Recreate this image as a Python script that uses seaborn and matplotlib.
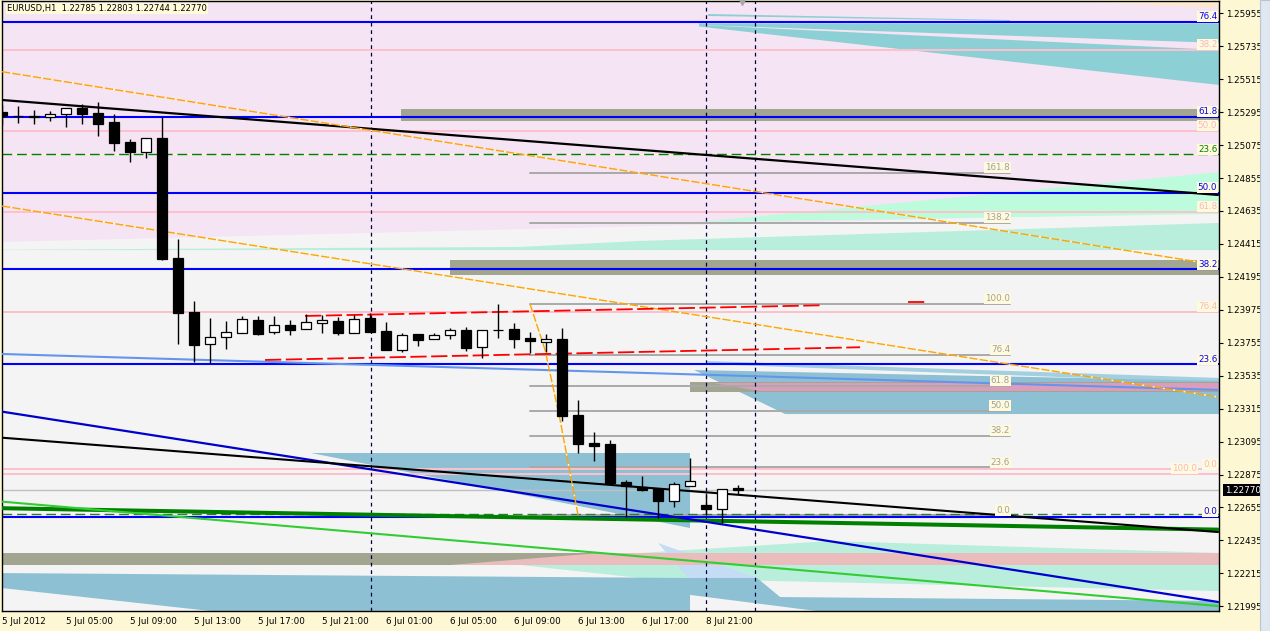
import matplotlib
matplotlib.use("Agg")
import matplotlib.pyplot as plt
from matplotlib.patches import Rectangle
import seaborn as sns

# EURUSD H1 candles, bar 0 = 5 Jul 01:00 (weekend gap after bar 43)
opens = [1.25296, 1.25272, 1.25266, 1.25262, 1.25281, 1.25325, 1.25289, 1.25229, 1.25094, 1.25031,
         1.25120, 1.24319, 1.23960, 1.23745, 1.23791, 1.23818, 1.23907, 1.23825, 1.23872, 1.23849,
         1.23885, 1.23900, 1.23822, 1.23920, 1.23833, 1.23709, 1.23813, 1.23778, 1.23805, 1.23840,
         1.23727, 1.23840, 1.23847, 1.23787, 1.23762, 1.23780, 1.23272, 1.23086, 1.23079, 1.22825,
         1.22794, 1.22780, 1.22700, 1.22800, 1.22672, 1.22647, 1.22785]
highs = [1.25340, 1.25336, 1.25309, 1.25303, 1.25323, 1.25349, 1.25365, 1.25283, 1.25114, 1.25120,
         1.25261, 1.24448, 1.24034, 1.23920, 1.23900, 1.23934, 1.23934, 1.23934, 1.23907, 1.23947,
         1.23938, 1.23927, 1.23938, 1.23952, 1.23894, 1.23818, 1.23813, 1.23818, 1.23856, 1.23860,
         1.23838, 1.24014, 1.23887, 1.23827, 1.23813, 1.23853, 1.23373, 1.23159, 1.23104, 1.22839,
         1.22865, 1.22780, 1.22825, 1.22985, 1.22750, 1.22776, 1.22803]
lows = [1.25209, 1.25222, 1.25216, 1.25236, 1.25198, 1.25216, 1.25138, 1.25038, 1.24964, 1.24991,
        1.24308, 1.23747, 1.23628, 1.23622, 1.23715, 1.23818, 1.23807, 1.23815, 1.23807, 1.23849,
        1.23822, 1.23807, 1.23822, 1.23829, 1.23709, 1.23695, 1.23735, 1.23778, 1.23780, 1.23700,
        1.23655, 1.23789, 1.23722, 1.23687, 1.23695, 1.23234, 1.23021, 1.22967, 1.22820, 1.22589,
        1.22768, 1.22583, 1.22658, 1.22800, 1.22605, 1.22549, 1.22744]
closes = [1.25269, 1.25268, 1.25264, 1.25281, 1.25321, 1.25285, 1.25218, 1.25091, 1.25031, 1.25120,
          1.24316, 1.23956, 1.23740, 1.23791, 1.23825, 1.23912, 1.23815, 1.23872, 1.23842, 1.23892,
          1.23907, 1.23820, 1.23912, 1.23829, 1.23709, 1.23807, 1.23773, 1.23805, 1.23838, 1.23722,
          1.23838, 1.23838, 1.23782, 1.23769, 1.23778, 1.23268, 1.23081, 1.23068, 1.22820, 1.22798,
          1.22772, 1.22700, 1.22810, 1.22830, 1.22647, 1.22776, 1.22770]

tick_bars = [0, 4, 8, 12, 16, 20, 24, 28, 32, 36, 40, 44]
tick_labels = ["5 Jul 2012", "5 Jul 05:00", "5 Jul 09:00", "5 Jul 13:00", "5 Jul 17:00", "5 Jul 21:00",
               "6 Jul 01:00", "6 Jul 05:00", "6 Jul 09:00", "6 Jul 13:00", "6 Jul 17:00", "8 Jul 21:00"]
price_ticks = [1.25955, 1.25735, 1.25515, 1.25295, 1.25075, 1.24855, 1.24635, 1.24415, 1.24195, 1.23975,
               1.23755, 1.23535, 1.23315, 1.23095, 1.22875, 1.22655, 1.22435, 1.22215, 1.21995]
last_price = 1.22770

# fibonacci levels (full width)
blue_levels = [1.25900, 1.25265, 1.24757, 1.24245, 1.23611, 1.22593]
blue_names = ["76.4", "61.8", "50.0", "38.2", "23.6", "0.0"]
pink_levels = [1.25712, 1.25171, 1.24630, 1.23962, 1.22910, 1.22880]
pink_names = ["38.2", "50.0", "61.8", "76.4", "0.0", "100.0"]
green_level = 1.25013
# short fibonacci (bars 33..63)
gray_levels = [1.24891, 1.24557, 1.24016, 1.23675, 1.23468, 1.23301, 1.23134, 1.22925, 1.22605]
gray_names = ["161.8", "138.2", "100.0", "76.4", "61.8", "50.0", "38.2", "23.6", "0.0"]
gray_span = (33, 63)
zero_dash_level = 1.22610

# zones: (bar from, bar to, low, high)
bands = [(24.94, 76.1, 1.25238, 1.25316), (28.0, 76.1, 1.24207, 1.24308),
         (43.0, 76.1, 1.23428, 1.23495), (0, 43.0, 1.22271, 1.22351)]

# trend lines: bars, prices
black_up = ([0, 76], [1.25376, 1.24742])
black_lo = ([0, 76], [1.23121, 1.22491])
blue_tl = ([0, 76], [1.23295, 1.22024])
cornflower_tl = ([0, 76], [1.23680, 1.23440])
green_tl = ([0, 76], [1.22650, 1.22507])
lime_tl = ([0, 76], [1.22694, 1.21997])
orange_1 = ([0, 76], [1.25565, 1.24274])
orange_2 = ([0, 76], [1.24668, 1.23393])
orange_swing = ([33, 33.94, 34.88, 36], [1.24014, 1.23707, 1.23239, 1.22605])
red_up = ([18.94, 51.13], [1.23934, 1.24005])
red_bit = ([56.63, 57.69], [1.24025, 1.24025])
red_lo = ([16.44, 53.63], [1.23640, 1.23725])
vlines_bars = [23.06, 44, 47.06]

# shaded objects: bars, prices
pink_bg = ([0, 76.1, 76.1, 0], [1.2604, 1.2604, 1.24628, 1.24428])
teal_a1 = ([44.13, 63, 63, 44.13], [1.25950, 1.25910, 1.25904, 1.25937])
teal_a2 = ([43.56, 76.1, 76.1, 43.56], [1.25887, 1.25887, 1.25757, 1.25877])
teal_b = ([43.56, 76.1, 76.1, 43.56], [1.25877, 1.25710, 1.25476, 1.25867])
peach = ([66.1, 76.1, 76.1], [1.2604, 1.2604, 1.25990])
mint_1 = ([43.56, 76.1, 76.1], [1.24561, 1.24895, 1.24615])
mint_2 = ([0, 32.38, 39.88, 76.1, 76.1, 0], [1.24376, 1.24395, 1.24435, 1.24555, 1.24374, 1.24374])
steel_mid = ([19.31, 43, 43], [1.23019, 1.23019, 1.22518])
light_strip = ([44.06, 76.1, 76.1, 44.06], [1.23633, 1.23520, 1.23487, 1.23613])
steel_right = ([43.25, 76.1, 76.1, 48.94], [1.23573, 1.23500, 1.23279, 1.23279])
pink_in_band = ([44.44, 76.1, 76.1, 47.38], [1.23486, 1.23486, 1.23433, 1.23433])
mint_hump = ([39.88, 51.75, 76.1], [1.22351, 1.22431, 1.22351])
pink_low = ([28.0, 76.1, 76.1, 37.38], [1.22271, 1.22271, 1.22351, 1.22351])
mint_low = ([32.38, 76.1, 76.1, 39.88], [1.22271, 1.22271, 1.22097, 1.22184])
steel_bl = ([0, 43, 43, 13, 0], [1.22217, 1.22184, 1.21964, 1.21964, 1.22117])
steel_br = ([43, 47.19, 48.63, 76.1, 76.1, 50.88, 43], [1.22184, 1.22184, 1.22057, 1.22031, 1.21964, 1.21964, 1.22071])
light_tri = ([41, 47.19, 42.88], [1.22418, 1.22184, 1.22184])

CREAM = "#fdf8d3"
sns.set_theme(style="white", rc={"axes.facecolor": "#f4f4f4", "figure.facecolor": CREAM})
plt.rcParams["font.family"] = ["DejaVu Sans"]

fig = plt.figure(figsize=(12.7, 6.31), dpi=100)
ax = fig.add_axes([2 / 1270, 1 - 611 / 631, 1217 / 1270, 610 / 631])
fig.patches.append(Rectangle((1260 / 1270, 0), 10 / 1270, 1, transform=fig.transFigure,
                             facecolor="#dfe7f1", edgecolor="#b8c4d4", lw=0.8))

# background objects
for poly, col in [(pink_bg, "#f5e4f4"), (peach, "#fde9d2"), (teal_a1, "#8ccfd4"), (teal_a2, "#8ccfd4"),
                  (teal_b, "#8ccfd4"), (mint_2, "#b9eedc"), (mint_1, "#bcfcdc"),
                  (steel_mid, "#8ec0d4"), (light_strip, "#a3cfe0"), (steel_right, "#8ec0d4"),
                  (mint_hump, "#b9eedc"), (mint_low, "#b9eedc"), (steel_bl, "#8ec0d4"),
                  (steel_br, "#8ec0d4"), (light_tri, "#c4dcf4")]:
    ax.fill(poly[0], poly[1], color=col, lw=0, zorder=1)

for x0, x1, lo, hi in bands:
    ax.fill_between([x0, x1], lo, hi, color="#a2a590", lw=0, zorder=1.5)
ax.fill(pink_in_band[0], pink_in_band[1], color="#dc9cbc", lw=0, zorder=1.6)
ax.fill(pink_low[0], pink_low[1], color="#ebbcbc", lw=0, zorder=1.6)

# horizontal levels
for lv in pink_levels:
    ax.axhline(lv, color="#ffc0cb", lw=1.4, zorder=2)
for lv in blue_levels:
    ax.axhline(lv, color="#0000ff", lw=1.5, zorder=2.2)
ax.axhline(green_level, color="#008000", lw=1, ls=(0, (7, 3.5)), gapcolor="#fff6d2", zorder=2)
ax.axhline(zero_dash_level, color="#2e7d32", lw=1, ls=(0, (7, 3.5)), zorder=2.1)
for lv in gray_levels:
    ax.plot(gray_span, [lv, lv], color="#a9a9a9", lw=1.4, zorder=2)
ax.axhline(last_price, color="#c0c0c0", lw=1, zorder=2)

for xb in vlines_bars:
    ax.axvline(xb, color="#000040", lw=0.9, ls=(0, (3, 3)), zorder=2.5)

# trend lines
for line, col, lw in [(cornflower_tl, "#6495ed", 1.5), (green_tl, "#008000", 2.9), (lime_tl, "#32cd32", 1.5),
                      (blue_tl, "#0000cd", 1.6), (black_lo, "black", 1.5), (black_up, "black", 1.6)]:
    sns.lineplot(x=line[0], y=line[1], ax=ax, color=col, linewidth=lw, zorder=3)
for line in [orange_1, orange_2, orange_swing]:
    ax.plot(line[0], line[1], color="#ffa500", lw=1, ls=(0, (6, 1.5)), gapcolor="#fffbd6", zorder=3)
for line in [red_up, red_bit, red_lo]:
    ax.plot(line[0], line[1], color="#ff0000", lw=1.3, ls=(0, (9, 2.5)), zorder=3)

# candles
bars = list(range(len(opens)))
ax.vlines(bars, lows, highs, color="black", lw=1, zorder=4)
bottoms = [min(o, c) for o, c in zip(opens, closes)]
heights = [max(abs(c - o), 0.00002) for o, c in zip(opens, closes)]
fills = ["black" if c < o else "white" for o, c in zip(opens, closes)]
ax.bar(bars, heights, bottom=bottoms, width=0.65, color=fills, edgecolor="black", linewidth=0.9, zorder=4.5)

# labels
lab_kw = dict(fontsize=6.3, ha="right", va="bottom", zorder=6)
box = dict(boxstyle="square,pad=0.12", facecolor="#fffadc", edgecolor="none")
for lv, nm in zip(blue_levels, blue_names):
    ax.text(75.95, lv + 0.00003, nm, color="#0000ff", bbox=box, **lab_kw)
for lv, nm in zip(pink_levels, pink_names):
    # "100.0" sits just left of the "0.0" tag on the same spot
    xr = 74.7 if nm == "100.0" else 75.95
    ax.text(xr, lv + 0.00003, nm, color="#f7b8c4", bbox=box, **lab_kw)
ax.text(75.95, green_level + 0.00003, "23.6", color="#008000", bbox=box, **lab_kw)
for lv, nm in zip(gray_levels, gray_names):
    ax.text(gray_span[1], lv + 0.00003, nm, color="#a0a0a0", bbox=box, **lab_kw)

ax.plot([46.25], [1.26030], marker="v", color="#a8a8a8", ms=5, clip_on=False, zorder=6)
ax.text(0.004, 0.995, "EURUSD,H1  1.22785 1.22803 1.22744 1.22770", transform=ax.transAxes,
        fontsize=6.0, va="top", ha="left", color="black", zorder=7,
        bbox=dict(boxstyle="square,pad=0.15", facecolor="#fffad8", edgecolor="none"))
ax.annotate(f"{last_price:.5f}", xy=(1.0, last_price), xycoords=("axes fraction", "data"),
            xytext=(4, 0), textcoords="offset points", fontsize=6.3, color="white", va="center",
            ha="left", bbox=dict(boxstyle="square,pad=0.15", facecolor="black", edgecolor="none"),
            annotation_clip=False, zorder=7)

ax.set_xlim(0, 76.06)
ax.set_ylim(1.219637, 1.260371)
ax.yaxis.tick_right()
ax.set_yticks(price_ticks, [f"{p:.5f}" for p in price_ticks])
ax.set_xticks(tick_bars, tick_labels)
for lab in ax.get_xticklabels():
    lab.set_ha("left")
ax.tick_params(axis="both", direction="out", length=3, width=0.8, color="black", labelsize=6.3,
               labelcolor="black", pad=2)
ax.tick_params(axis="x", pad=1)
ax.tick_params(axis="y", right=True, left=False)
for sp in ax.spines.values():
    sp.set_color("black")
    sp.set_linewidth(1)
ax.set_xlabel("")
ax.set_ylabel("")

fig.savefig("out.png", dpi=100, facecolor=CREAM)
